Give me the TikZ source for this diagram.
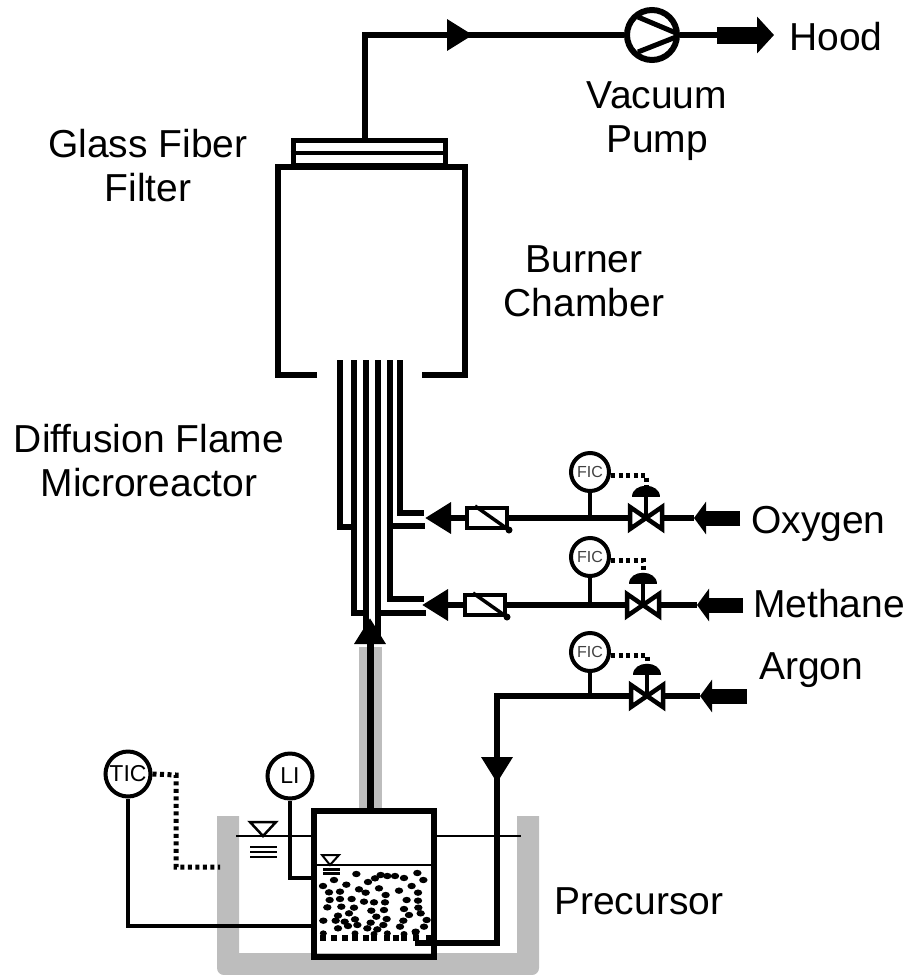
\documentclass[tikz,border=0pt]{standalone}
\usepackage{fontspec}
\setmainfont{Liberation Sans}
\usetikzlibrary{arrows.meta}
\definecolor{bathgray}{RGB}{189,189,189}
\tikzset{
    label39/.style={font=\fontsize{39}{44}\selectfont, align=center, inner sep=0pt},
    inst/.style={circle, draw, line width=4pt, fill=white, inner sep=0pt, minimum size=45pt, font=\fontsize{23}{23}\selectfont},
    ficinst/.style={inst, minimum size=38pt, text=black!75, font=\fontsize{16}{16}\selectfont},
    pipe/.style={line width=6.5pt, line cap=butt},
    tube/.style={line width=5.5pt, line join=miter},
    thinline/.style={line width=2pt},
    signal/.style={line width=5pt, dash pattern=on 4pt off 3.5pt},
    tipped/.style={pipe, -{Triangle[length=26pt,width=30pt]}},
    blockarrow/.style={line width=15pt, -{Triangle[length=12pt,width=32pt]}},
    hoodarrow/.style={line width=17pt, -{Triangle[length=17pt,width=36pt]}},
    meter/.style={draw, line width=4pt, fill=white, inner sep=0pt, minimum width=40pt, minimum height=20pt},
}
\begin{document}
\begin{tikzpicture}[x=1pt,y=-1pt]
    \useasboundingbox (0,0) rectangle (909,975);

    % gray bath and riser
    \fill[bathgray] (359,647) rectangle (382,810);
    \fill[bathgray] (217,816) [rounded corners=7pt] -- (217,975) -- (539,975) [sharp corners] -- (539,816) -- (517,816) -- (517,953) -- (239,953) -- (239,816) -- cycle;

    % labels
    \node (hood) [label39, anchor=west] at (789,37) {Hood};
    \node (vacuum) [label39] at (657,121) {Vacuum\\Pump};
    \node (filter) [label39] at (148,166) {Glass Fiber\\Filter};
    \node (burner) [label39] at (584,281) {Burner\\Chamber};
    \node (flame) [label39] at (149,461) {Diffusion Flame\\Microreactor};
    \node (oxygen) [label39, anchor=west] at (751,524) {Oxygen};
    \node (methane) [label39, anchor=west] at (753,604) {Methane};
    \node (argon) [label39, anchor=west] at (759,670) {Argon};
    \node (precursor) [label39, anchor=west] at (554,901) {Precursor};

    % filter and chamber
    \node (filtertop) [draw, line width=5pt, minimum width=152pt, minimum height=25pt, inner sep=0pt] at (369,153) {};
    \draw[line width=4.5pt] (filtertop.west) -- (filtertop.east);
    \coordinate (chamberbl) at (317,375);
    \coordinate (chamberbr) at (422,375);
    \draw[line width=5.5pt, line join=miter] (chamberbl) -- (278,375) -- (278,167) -- (465,167) -- (465,375) -- (chamberbr);

    % pump line
    \node (pump) [circle, draw, line width=6pt, minimum size=50pt, inner sep=0pt] at (652,35) {};
    \coordinate (outletup) at (365,140);
    \coordinate (outletcorner) at (365,35);
    \coordinate (outletarrow) at (473,35);
    \coordinate (hoodend) at (774,35);
    \coordinate (hoodstart) at (717,35);
    \draw[pipe, line join=miter] (outletup) -- (outletcorner) -- (outletarrow);
    \draw[pipe] (outletarrow) -- (pump.west);
    \draw[tipped] (outletcorner) ++(80,0) -- (outletarrow);
    \draw[line width=5pt] (638,17) -- (676,33);
    \draw[line width=5pt] (638,52) -- (676,37);
    \draw[pipe] (pump.east) -- (hoodstart);
    \draw[hoodarrow] (hoodstart) -- (hoodend);

    % concentric tubes
    \coordinate (t1) at (340,360);
    \coordinate (t2) at (354,360);
    \coordinate (t3) at (366,360);
    \coordinate (t4) at (378,360);
    \coordinate (t5) at (390,360);
    \coordinate (t6) at (400,360);
    \draw[tube] (t1) -- (340,527) -- (354,527);
    \draw[tube] (t2) -- (354,613) -- (366,613);
    \draw[tube] (t3) -- (366,642);
    \draw[tube] (t4) -- (378,642);
    \draw[tube] (t5) -- (390,599) -- (424,599);
    \draw[tube] (t6) -- (400,513) -- (424,513);
    \draw[tube] (390,526) -- (425,526);
    \draw[tube] (378,613) -- (426,613);

    % gas lines
    \foreach \n/\lx/\fy/\ly/\vx/\tx/\bx in {A/590/472/518/646/694/740, B/590/557/605/643/697/743, C/590/652/696/647/700/747}{
        \node (fic\n) [ficinst] at (\lx,\fy) {FIC};
        \coordinate (valve\n) at (\vx,\ly);
        \coordinate (block\n) at (\bx,\ly);
        \coordinate (blocktip\n) at (\tx,\ly);
        \coordinate (tee\n) at (\lx,\ly);
        \coordinate (act\n) at (\vx,\fy+3);
        \draw[line width=4.5pt] (fic\n) -- (tee\n);
        \draw[pipe] (\vx-16,\ly) -- (\lx,\ly);
        \draw[line width=4.5pt, fill=white, line join=miter] (\vx-16,\ly-11) -- (\vx+16,\ly+11) -- (\vx+16,\ly-11) -- (\vx-16,\ly+11) -- cycle;
        \draw[line width=4.5pt] (valve\n) -- (\vx,\ly-22);
        \fill (\vx-14,\ly-21) .. controls (\vx-14,\ly-36) and (\vx+14,\ly-36) .. (\vx+14,\ly-21) -- cycle;
        \draw[signal] (fic\n.east |- act\n) -- (act\n) -- (\vx,\ly-32);
        \draw[pipe] (\vx+16,\ly) -- (blocktip\n);
        \draw[blockarrow] (block\n) -- (blocktip\n);
    }

    % flow meters and tube inlets
    \node (fmA) [meter] at (487,518) {};
    \node (fmB) [meter] at (485,605) {};
    \coordinate (inletA) at (425,518);
    \coordinate (inletB) at (422,605);
    \draw[pipe] (teeA) -- (fmA.east);
    \draw[pipe] (teeB) -- (fmB.east);
    \draw[tipped] (fmA.west) -- (inletA);
    \draw[tipped] (fmB.west) -- (inletB);
    \draw[line width=3.5pt] (fmA.north west) ++(10,0) -- (fmA.south east);
    \draw[line width=3.5pt] (fmB.north west) ++(10,0) -- (fmB.south east);
    \fill (fmA.south east) circle (3.5pt);
    \fill (fmB.south east) circle (3.5pt);

    % argon feed
    \coordinate (argoncorner) at (497,696);
    \coordinate (argonarrow) at (497,783);
    \coordinate (argonin) at (497,943);
    \coordinate (argonend) at (415,943);
    \draw[pipe, line join=miter] (teeC) -- (argoncorner) -- (argonarrow);
    \draw[tipped] (argoncorner) ++(0,50) -- (argonarrow);

    % precursor vessel
    \node (vessel) [draw, line width=6pt, minimum width=120pt, minimum height=146pt, inner sep=0pt] at (374,884) {};
    \coordinate (riserarrow) at (370,618);
    \draw[tipped, line width=7pt] (vessel.north -| riserarrow) -- (riserarrow);
    \draw[pipe, line join=miter] (argonarrow) -- (argonin) -- (argonend);

    % liquid levels
    \draw[thinline] (236,836) -- (vessel.west |- 0,836);
    \draw[thinline] (vessel.east |- 0,836) -- (521,836);
    \draw[thinline] (vessel.west |- 0,865) -- (vessel.east |- 0,865);
    \draw[thinline, fill=white, line width=2.5pt] (250,822) -- (276,822) -- (263,836) -- cycle;
    \draw[thinline, fill=white] (322,855) -- (339,855) -- (330,865) -- cycle;
    \foreach \y in {847,852,857}
        \draw[line width=2.5pt] (250,\y) -- (277,\y);
    \foreach \y in {869,873}
        \draw[line width=3pt] (323,\y) -- (340,\y);

    % instruments on the vessel
    \node (tic) [inst] at (128,774) {TIC};
    \node (li) [inst] at (290,776) {LI};
    \coordinate (licorner) at (290,878);
    \coordinate (ticcorner) at (128,926);
    \draw[line width=4.5pt, line join=miter] (li) -- (licorner) -- (vessel.west |- licorner);
    \draw[line width=4.5pt, line join=miter] (tic) -- (ticcorner) -- (vessel.west |- ticcorner);
    \coordinate (sig1) at (176,775);
    \coordinate (sig2) at (176,867);
    \coordinate (sig3) at (220,867);
    \draw[signal] (tic.east) -- (sig1) -- (sig2) -- (sig3);

    % particles
    \foreach \x/\y in {127/72,60/90,27/108,97/104,162/96,183/85,200/75,220/78,243/78,270/84,310/69,328/90,293/108,135/118,155/128,195/115,255/122,45/127,78/125,215/135,312/128,47/150,78/147,113/147,150/155,180/157,213/157,278/150,312/152,40/172,82/170,120/173,172/182,210/180,270/177,313/173,72/197,105/190,187/200,285/195,320/190,28/212,65/212,92/215,123/208,170/218,218/207,268/212,338/210,72/235,102/228,130/225,160/235,190/238,208/225,258/230,330/230,305/245}
        \fill ({314+\x/3},{850+\y/3}) ellipse (4.2pt and 3.2pt);
    \foreach \x/\y in {28/263,60/263,92/263,123/263,155/263,180/263,220/263,247/263,270/263,305/263,345/263}
        \fill ({314+\x/3-3},{850+\y/3-3}) rectangle ++(6,6);
    \foreach \x/\y in {28/250,123/250,180/252,220/250,270/252,305/250}
        \fill ({314+\x/3},{850+\y/3}) ellipse (3.5pt and 3pt);
\end{tikzpicture}
\end{document}
